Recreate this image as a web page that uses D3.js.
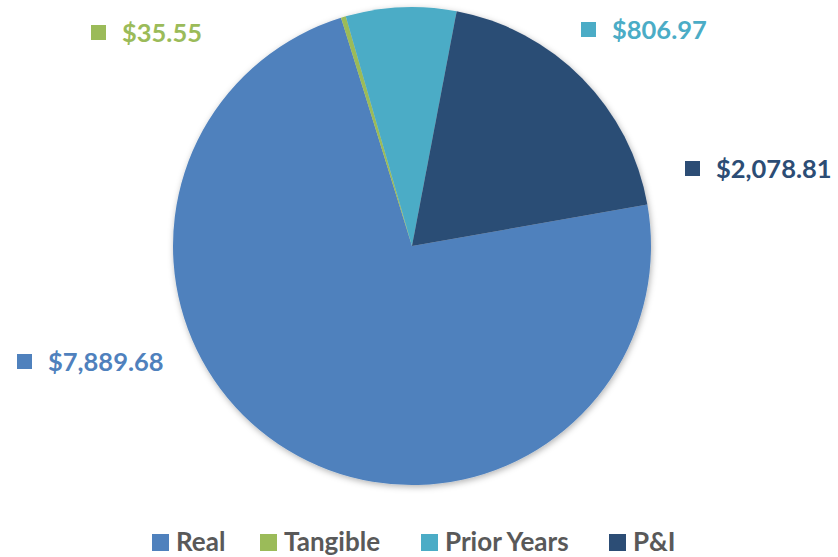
<!DOCTYPE html>
<html>
<head>
<meta charset="utf-8">
<script src="https://cdn.jsdelivr.net/npm/d3@7"></script>
<style>
  html, body { margin: 0; padding: 0; background: #ffffff; }
  svg { display: block; }
</style>
</head>
<body>
<script>
// ---- data ----
const categories = ["Real", "Tangible", "Prior Years", "P&I"];
const values = [7889.68, 35.55, 806.97, 2078.81];
const valueLabels = ["$7,889.68", "$35.55", "$806.97", "$2,078.81"];
const colors = ["#4F81BD", "#9BBB59", "#4BACC6", "#2C4D75"];

// ---- layout (not data) ----
const W = 838, H = 557;
const cx = 412, cy = 246, R = 239;
const firstAngle = 80 * Math.PI / 180;
// data label anchor positions (square left x, text baseline y)
const labelPos = [
  { x: 17, y: 371 },
  { x: 91, y: 42 },
  { x: 581, y: 39 },
  { x: 685, y: 178 }
];
const legendPos = [152, 260, 421, 609];

const svg = d3.select("body").append("svg")
  .attr("width", W).attr("height", H);

const defs = svg.append("defs");
const f = defs.append("filter").attr("id", "shadow")
  .attr("x", "-10%").attr("y", "-10%").attr("width", "120%").attr("height", "120%");
f.append("feDropShadow").attr("dx", 1).attr("dy", 2)
  .attr("stdDeviation", 3).attr("flood-color", "#000").attr("flood-opacity", 0.3);

const pie = d3.pie().sort(null).value(d => d)
  .startAngle(firstAngle).endAngle(firstAngle + 2 * Math.PI);
const arcs = pie(values);
const arc = d3.arc().innerRadius(0).outerRadius(R);

const g = svg.append("g").attr("transform", `translate(${cx},${cy})`)
  .attr("filter", "url(#shadow)");
g.selectAll("path").data(arcs).join("path")
  .attr("d", arc)
  .attr("fill", (d, i) => colors[i]);

// data labels
const font = "Lato, 'Open Sans', sans-serif";
const lab = svg.append("g");
labelPos.forEach((p, i) => {
  lab.append("rect")
    .attr("x", p.x).attr("y", p.y - 17)
    .attr("width", 15).attr("height", 15)
    .attr("fill", colors[i]);
  lab.append("text")
    .attr("x", p.x + 31).attr("y", p.y)
    .attr("font-family", font).attr("font-weight", 700)
    .attr("font-size", 25.5)
    .attr("fill", colors[i])
    .text(valueLabels[i]);
});

// legend
const leg = svg.append("g");
categories.forEach((c, i) => {
  const x = legendPos[i];
  leg.append("rect").attr("x", x).attr("y", 534)
    .attr("width", 17).attr("height", 17).attr("fill", colors[i]);
  leg.append("text").attr("x", x + 24).attr("y", 551)
    .attr("font-family", font).attr("font-weight", 700)
    .attr("font-size", 26).attr("fill", "#595959")
    .text(c);
});
</script>
</body>
</html>
